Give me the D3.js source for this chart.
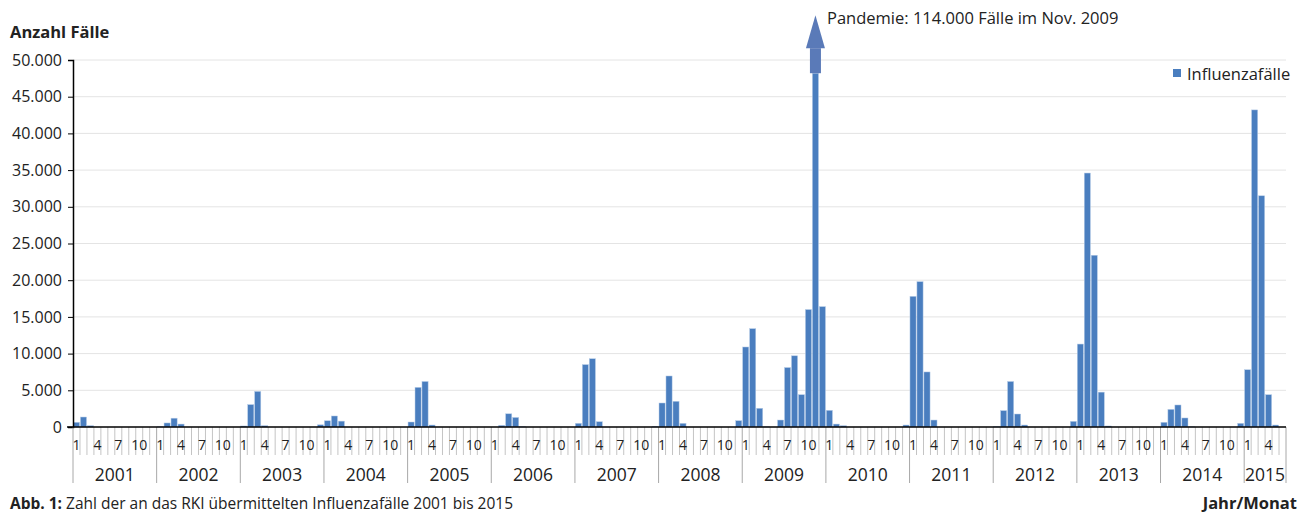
<!DOCTYPE html>
<html>
<head>
<meta charset="utf-8">
<script src="https://cdn.jsdelivr.net/npm/d3@7"></script>
<style>
  body { margin: 0; background: #fff; }
  svg { display: block; font-family: "Open Sans", sans-serif; }
</style>
</head>
<body>
<svg id="chart"></svg>
<script>
// Monthly influenza cases reported to RKI
const years = ['2001', '2002', '2003', '2004', '2005', '2006', '2007', '2008',
    '2009', '2010', '2011', '2012', '2013', '2014', '2015'];
const monthLabels = [1, 4, 7, 10];

const cases2001 = [640, 1360, 180, 0, 0, 0, 0, 0, 0, 0, 0, 0];
const cases2002 = [30, 550, 1200, 400, 0, 0, 0, 0, 0, 0, 0, 0];
const cases2003 = [140, 3050, 4850, 180, 0, 0, 0, 0, 0, 0, 0, 300];
const cases2004 = [850, 1500, 800, 0, 0, 0, 0, 0, 0, 0, 0, 0];
const cases2005 = [680, 5400, 6200, 270, 0, 0, 0, 0, 0, 0, 0, 0];
const cases2006 = [0, 230, 1800, 1300, 40, 0, 0, 0, 0, 0, 0, 0];
const cases2007 = [500, 8500, 9300, 720, 0, 0, 0, 0, 0, 0, 0, 90];
const cases2008 = [3270, 6950, 3500, 500, 0, 0, 0, 0, 0, 0, 0, 860];
const cases2009 = [10900, 13400, 2550, 30, 0, 950, 8100, 9700, 4400, 16000, 114000, 16400];
const cases2010 = [2270, 400, 180, 0, 0, 0, 0, 0, 0, 0, 0, 270];
const cases2011 = [17800, 19800, 7500, 950, 0, 0, 0, 0, 0, 0, 0, 0];
const cases2012 = [50, 2230, 6200, 1770, 270, 0, 0, 0, 0, 0, 0, 770];
const cases2013 = [11300, 34600, 23400, 4750, 140, 0, 0, 0, 0, 0, 0, 0];
const cases2014 = [640, 2400, 3000, 1230, 30, 0, 0, 0, 0, 0, 0, 500];
const cases2015 = [7800, 43200, 31500, 4400, 270, 0];

const yTicks = [0, 5000, 10000, 15000, 20000, 25000, 30000, 35000, 40000, 45000, 50000];

const perYear = [cases2001, cases2002, cases2003, cases2004, cases2005, cases2006, cases2007,
    cases2008, cases2009, cases2010, cases2011, cases2012, cases2013, cases2014, cases2015];

// flatten into one row per month
const data = [];
perYear.forEach((vals, yi) => {
    vals.forEach((v, mi) => {
        data.push({ key: years[yi] + '-' + (mi + 1), year: years[yi], month: mi + 1, value: v });
    });
});

const width = 1307;
const height = 515;
const margin = { top: 60, right: 21, bottom: 88, left: 73 };
const innerW = width - margin.left - margin.right;
const innerH = height - margin.top - margin.bottom;

const de = d3.formatLocale({ decimal: ',', thousands: '.', grouping: [3], currency: ['', ' €'] });
const fmt = de.format(',d');

const svg = d3.select('#chart')
    .attr('width', width)
    .attr('height', height);

const g = svg.append('g')
    .attr('transform', `translate(${margin.left},${margin.top})`);

const x = d3.scaleBand()
    .domain(data.map(d => d.key))
    .range([0, innerW])
    .paddingInner(0.12)
    .paddingOuter(0.06);

const y = d3.scaleLinear()
    .domain([0, 50000])
    .range([innerH, 0]);

const step = x.step();
const x0 = x(data[0].key) - x.paddingOuter() * step; // left edge of first slot

// gridlines
g.append('g')
    .selectAll('line')
    .data(yTicks.filter(t => t > 0))
    .join('line')
    .attr('x1', 0)
    .attr('x2', innerW)
    .attr('y1', d => y(d))
    .attr('y2', d => y(d))
    .attr('stroke', '#e4e4e4')
    .attr('stroke-width', 1);

// bars (clip at top of axis)
const capValue = 48200;
g.append('g')
    .selectAll('rect')
    .data(data)
    .join('rect')
    .attr('x', d => x(d.key))
    .attr('width', x.bandwidth())
    .attr('y', d => y(Math.min(d.value, capValue)))
    .attr('height', d => innerH - y(Math.min(d.value, capValue)))
    .attr('fill', '#4a7ebf')
    .attr('stroke', '#b8cde8')
    .attr('stroke-width', 0.5);

// arrow on the pandemic bar
const peak = data.find(d => d.value > 50000);
const px = x(peak.key) + x.bandwidth() / 2;
const shaftBottom = y(capValue);
const headBase = shaftBottom - 25;
const tip = shaftBottom - 58;
g.append('rect')
    .attr('x', px - 5.5)
    .attr('y', headBase)
    .attr('width', 11)
    .attr('height', shaftBottom - headBase)
    .attr('fill', '#5a7ab8');
g.append('path')
    .attr('d', `M${px - 9.5},${headBase} L${px},${tip} L${px + 9.5},${headBase} Z`)
    .attr('fill', '#5a7ab8');

svg.append('text')
    .attr('x', 827)
    .attr('y', 24)
    .attr('font-size', 16.5)
    .attr('fill', '#222')
    .text('Pandemie: 114.000 Fälle im Nov. 2009');

// y axis
const yAxis = g.append('g')
    .call(d3.axisLeft(y).tickValues(yTicks).tickFormat(fmt).tickSize(5).tickPadding(6));
yAxis.select('.domain').attr('stroke', '#000').attr('stroke-width', 1.5);
yAxis.selectAll('.tick line').attr('stroke', '#000');
yAxis.selectAll('text')
    .attr('font-size', 16)
    .attr('fill', '#222')
    .attr('font-family', '"Open Sans", sans-serif');

// x axis: month boundaries, month labels, years
const xa = g.append('g').attr('transform', `translate(0,${innerH})`);
const nSlots = data.length;
xa.selectAll('line.mtick')
    .data(d3.range(nSlots + 1))
    .join('line')
    .attr('class', 'mtick')
    .attr('x1', i => x0 + i * step)
    .attr('x2', i => x0 + i * step)
    .attr('y1', 0)
    .attr('y2', i => (i % 12 === 0 || i === nSlots) ? 56 : 28)
    .attr('stroke', i => (i % 12 === 0 || i === nSlots) ? '#a8a8a8' : '#c4c4c4')
    .attr('stroke-width', 1);

xa.append('line')
    .attr('x1', -6)
    .attr('x2', innerW)
    .attr('y1', 0)
    .attr('y2', 0)
    .attr('stroke', '#000')
    .attr('stroke-width', 1.5);

xa.selectAll('text.month')
    .data(data.filter(d => monthLabels.includes(d.month)))
    .join('text')
    .attr('class', 'month')
    .attr('x', d => x(d.key) + x.bandwidth() / 2)
    .attr('y', 23)
    .attr('text-anchor', 'middle')
    .attr('font-size', 14)
    .attr('fill', '#222')
    .text(d => d.month);

xa.selectAll('text.year')
    .data(years)
    .join('text')
    .attr('class', 'year')
    .attr('x', (d, i) => {
        const n = perYear[i].length;
        return x0 + (i * 12 + n / 2) * step;
    })
    .attr('y', 54)
    .attr('text-anchor', 'middle')
    .attr('font-size', 17.5)
    .attr('fill', '#222')
    .text(d => d);

// titles
svg.append('text')
    .attr('x', 10)
    .attr('y', 38)
    .attr('font-size', 16.5)
    .attr('font-weight', 'bold')
    .attr('fill', '#222')
    .text('Anzahl Fälle');

svg.append('text')
    .attr('x', 1297)
    .attr('y', 509)
    .attr('text-anchor', 'end')
    .attr('font-size', 16.5)
    .attr('font-weight', 'bold')
    .attr('fill', '#222')
    .text('Jahr/Monat');

const cap = svg.append('text')
    .attr('x', 10)
    .attr('y', 509)
    .attr('font-size', 15.5)
    .attr('fill', '#222');
cap.append('tspan').attr('font-weight', 'bold').text('Abb. 1:');
cap.append('tspan').text(' Zahl der an das RKI übermittelten Influenzafälle 2001 bis 2015');

// legend
const legend = svg.append('g').attr('transform', 'translate(1173,69)');
legend.append('rect')
    .attr('width', 8)
    .attr('height', 8)
    .attr('fill', '#4a7ebf');
legend.append('text')
    .attr('x', 14)
    .attr('y', 10.5)
    .attr('font-size', 16.5)
    .attr('fill', '#222')
    .text('Influenzafälle');
</script>
</body>
</html>
